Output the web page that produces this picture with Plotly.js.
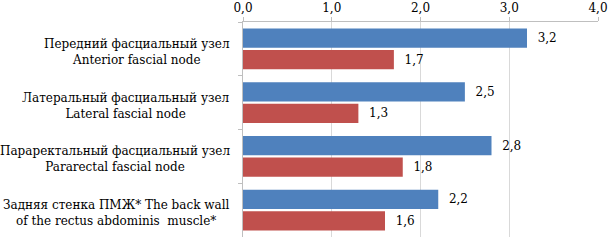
<!DOCTYPE html>
<html><head><meta charset="utf-8">
<script src="https://cdn.plot.ly/plotly-3.0.1.min.js"></script>
<style>html,body{margin:0;padding:0;background:#fff}</style>
</head><body><div id="chart" style="width:608px;height:243px"></div>
<script>
const categories = [
  "Передний фасциальный узел<br>Anterior fascial node",
  "Латеральный фасциальный узел<br>Lateral fascial node",
  "Параректальный фасциальный узел<br>Pararectal fascial node",
  "Задняя стенка ПМЖ* The back wall<br>of the rectus abdominis  muscle*"
];
const seriesBlue = [3.2, 2.5, 2.8, 2.2];
const seriesRed = [1.7, 1.3, 1.8, 1.6];
const xTicks = [0, 1, 2, 3, 4];

const font = {family: "DejaVu Serif", size: 12, color: "#000"};

const traces = [
  {type: "bar", orientation: "h", y: categories, x: seriesBlue, name: "A",
   marker: {color: "#4F81BD"}, text: seriesBlue.map(v => v.toFixed(1).replace(".", ",")),
   texttemplate: "  %{text}", textposition: "outside", cliponaxis: false,
   textfont: font, hoverinfo: "none"},
  {type: "bar", orientation: "h", y: categories, x: seriesRed, name: "B",
   marker: {color: "#C0504D"}, text: seriesRed.map(v => v.toFixed(1).replace(".", ",")),
   texttemplate: "  %{text}", textposition: "outside", cliponaxis: false,
   textfont: font, hoverinfo: "none"}
];

const annotations = categories.map(c => ({
  xref: "paper", yref: "y", x: -0.03, y: c, text: c, showarrow: false,
  xanchor: "right", yanchor: "middle", align: "center", font: font, yshift: -3
}));

const layout = {
  width: 608, height: 243,
  margin: {l: 243, r: 10, t: 22, b: 6, pad: 0},
  paper_bgcolor: "#fff", plot_bgcolor: "#fff",
  showlegend: false, barmode: "group", bargap: 0.2, bargroupgap: 0.1,
  separators: ",.",
  xaxis: {side: "top", range: [0, 4], tickvals: xTicks, tickformat: ".1f",
    showgrid: true, gridcolor: "#d9d9d9", gridwidth: 1,
    showline: true, linecolor: "#bfbfbf", linewidth: 1,
    ticks: "outside", ticklen: 4, tickcolor: "#bfbfbf",
    zeroline: false, tickfont: font, fixedrange: true},
  yaxis: {autorange: "reversed", showticklabels: false, showline: true,
    linecolor: "#bfbfbf", linewidth: 1, ticks: "outside", ticklen: 4,
    tickcolor: "#bfbfbf", tickson: "boundaries", showgrid: false, fixedrange: true},
  annotations: annotations,
  font: font
};

Plotly.newPlot("chart", traces, layout, {staticPlot: true, displayModeBar: false});
</script></body></html>
